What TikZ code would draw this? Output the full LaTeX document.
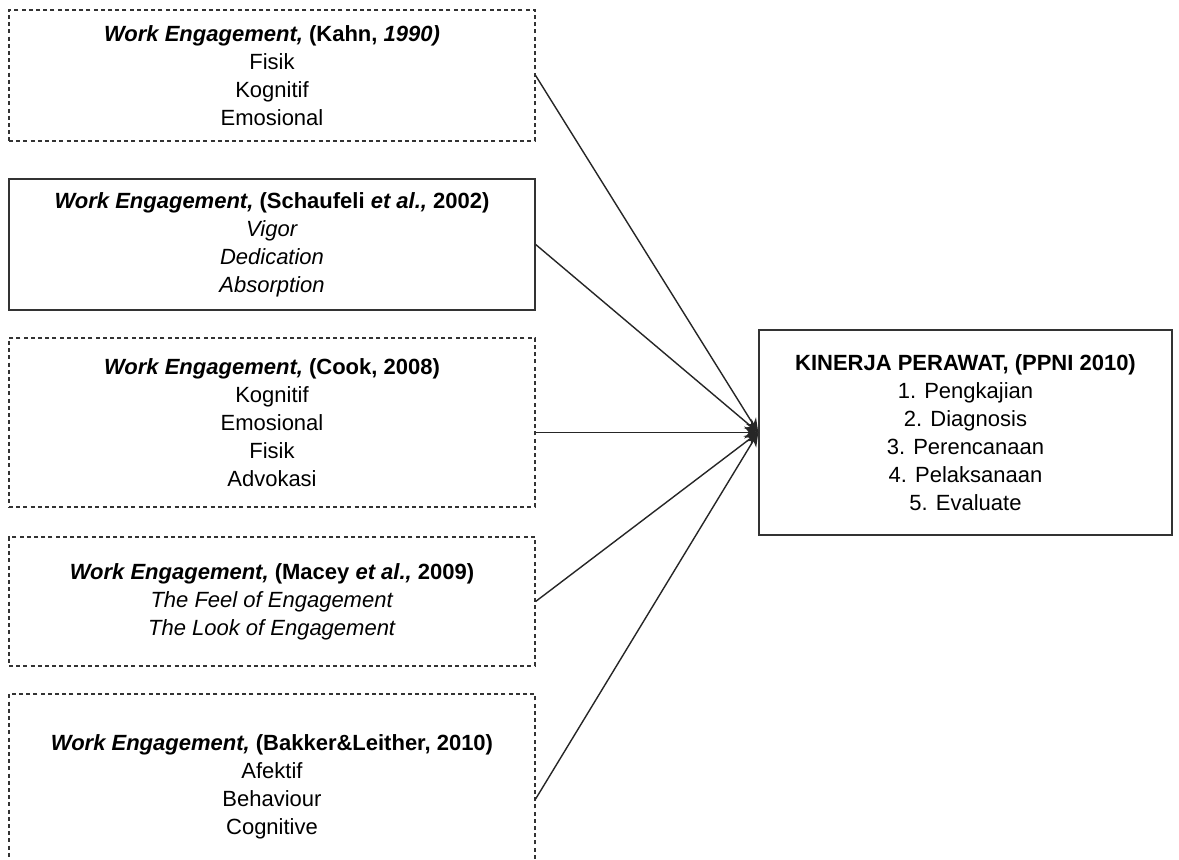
\documentclass[tikz,border=0pt]{standalone}
\usepackage{fontspec}
\setmainfont{Liberation Sans}
\usetikzlibrary{arrows.meta,positioning,calc}
\tikzset{
  >={Stealth[length=7pt,width=6pt]},
  theoryBox/.style={draw=black!80, line width=0.6pt, dash pattern=on 2pt off 1.6pt,
    minimum width=263pt, inner sep=0pt, align=center, font=\fontsize{11}{14}\selectfont},
  solidBox/.style={theoryBox, solid, line width=0.7pt},
  link/.style={->, draw=black!85, line width=0.7pt},
}

\begin{document}
\begin{tikzpicture}[x=0.5pt, y=-0.5pt]

% ===== Canvas =====
\clip (0,0) rectangle (1179,859);
\fill[white] (0,0) rectangle (1179,859);

% ===== Work engagement theories =====
\node[theoryBox, minimum height=65.5pt] (weKahn) at (272,75.5)
  {\textbf{\textit{Work Engagement,} (Kahn, \textit{1990)}}\\Fisik\\Kognitif\\Emosional};
\node[solidBox, minimum height=65.5pt] (weSchaufeli) at (272,244.5)
  {\textbf{\textit{Work Engagement,} (Schaufeli \textit{et al.,} 2002)}\\\textit{Vigor}\\\textit{Dedication}\\\textit{Absorption}};
\node[theoryBox, minimum height=84.5pt] (weCook) at (272,422.5)
  {\textbf{\textit{Work Engagement,} (Cook, 2008)}\\Kognitif\\Emosional\\Fisik\\Advokasi};
\node[theoryBox, minimum height=64.5pt] (weMacey) at (272,601.5)
  {\textbf{\textit{Work Engagement,} (Macey \textit{et al.,} 2009)}\\\textit{The Feel of Engagement}\\\textit{The Look of Engagement}};
\node[theoryBox, minimum height=93pt] (weBakker) at (272,787)
  {\textbf{\textit{Work Engagement,} (Bakker\&Leither, 2010)}\\Afektif\\Behaviour\\Cognitive};

% ===== Nurse performance =====
\node[solidBox, minimum width=206.5pt, minimum height=102.5pt] (kinerja) at (965.5,432.5)
  {\textbf{KINERJA PERAWAT, (PPNI 2010)}\\1. Pengkajian\\2. Diagnosis\\3. Perencanaan\\4. Pelaksanaan\\5. Evaluate};

% ===== Connections =====
\coordinate (tip) at (kinerja.west);
\coordinate (bakkerOut) at ($(weBakker.east)+(0,12)$);
\foreach \b in {weKahn.east,weSchaufeli.east,weMacey.east,bakkerOut} {\draw[link] (\b) -- (tip);}
\draw[link] (weCook.east |- tip) -- (tip);

\end{tikzpicture}
\end{document}
